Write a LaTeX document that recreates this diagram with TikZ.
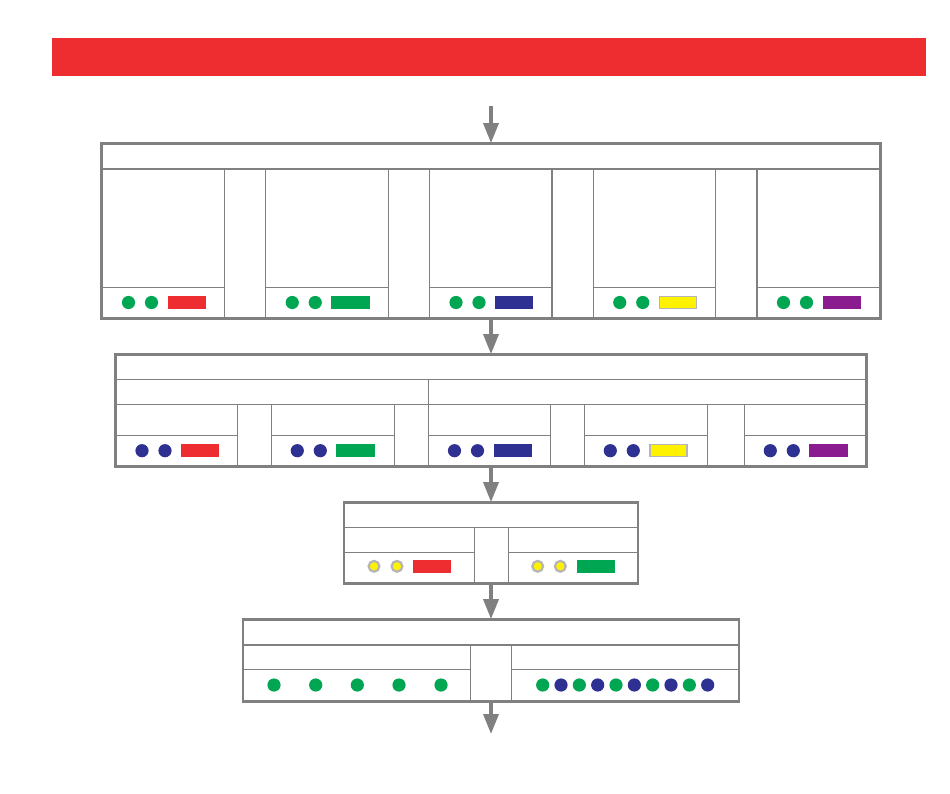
\documentclass[tikz,border=0pt]{standalone}
\usetikzlibrary{arrows.meta}
\definecolor{lg}{HTML}{808080}
\definecolor{cred}{HTML}{EE2D31}
\definecolor{cgreen}{HTML}{00A651}
\definecolor{cblue}{HTML}{2E3192}
\definecolor{cyellow}{HTML}{FFF200}
\definecolor{cpurple}{HTML}{8A1C8F}
\definecolor{cring}{HTML}{B5B5B5}
\begin{document}
\begin{tikzpicture}[x=1pt,y=-1pt,
  box/.style={draw=lg, line width=1.8pt, fill=white, inner sep=0pt},
  innerline/.style={draw=lg, line width=1.1pt},
  flow/.style={draw=lg, line width=3.5pt, -{Triangle[width=15pt,length=20pt]}},
  gdot/.style={fill=cgreen},
  bdot/.style={fill=cblue},
  ydot/.style={fill=cyellow, draw=cring, line width=2.2pt}]
\useasboundingbox (0,0) rectangle (950,794);

% banner
\node[fill=cred, inner sep=0pt, minimum width=874pt, minimum height=38pt] (banner) at (489,57) {};

% boxes
\node[box, minimum width=778pt, minimum height=174pt] (b1) at (491,231) {};
\node[box, minimum width=750pt, minimum height=111pt] (b2) at (491,410.5) {};
\node[box, minimum width=293pt, minimum height=80pt] (b3) at (491,543) {};
\node[box, minimum width=495pt, minimum height=80.7pt] (b4) at (491,660.35) {};

% arrows
\coordinate (start) at (491,106);
\coordinate (finish) at (491,734);
\draw[flow] (start) -- (b1.north);
\draw[flow] (b1.south) -- (b2.north);
\draw[flow] (b2.south) -- (b3.north);
\draw[flow] (b3.south) -- (b4.north);
\draw[flow] (b4.south) -- (finish);

% ---- box 1 ----
\draw[innerline] (102,169) -- (880,169);
\foreach \l/\c/\d in {102/cred/cred, 265.75/cgreen/cgreen, 429.5/cblue/cblue, 593.25/cyellow/cring, 757/cpurple/cpurple} {
  \draw[innerline] (\l,169) -- (\l,318);
  \draw[innerline] (\l+122.5,169) -- (\l+122.5,318);
  \draw[innerline] (\l,287.3) -- (\l+122.5,287.3);
  \fill[gdot] (\l+26.5,302.5) circle (6.6);
  \fill[gdot] (\l+49.5,302.5) circle (6.6);
  \filldraw[fill=\c, draw=\d, line width=1.3pt] (\l+66.2,296.8) rectangle (\l+103.3,308.2);
}
\draw[box, fill=none] (b1.north west) rectangle (b1.south east);

% ---- box 2 ----
\draw[innerline] (116,379.3) -- (866,379.3);
\draw[innerline] (116,404.3) -- (866,404.3);
\draw[innerline] (428.7,379.3) -- (428.7,404.3);
\foreach \l/\r/\c/\d in {116/237.3/cred/cred, 271.3/394.3/cgreen/cgreen, 428.5/550.3/cblue/cblue, 584.3/707.3/cyellow/cring, 744.3/866/cpurple/cpurple} {
  \draw[innerline] (\l,404.3) -- (\l,466);
  \draw[innerline] (\r,404.3) -- (\r,466);
  \draw[innerline] (\l,435.3) -- (\r,435.3);
  \fill[bdot] (\l+26,450.7) circle (6.6);
  \fill[bdot] (\l+49,450.7) circle (6.6);
  \filldraw[fill=\c, draw=\d, line width=1.3pt] (\l+65.8,444.6) rectangle (\l+102.8,456.6);
}
\draw[box, fill=none] (b2.north west) rectangle (b2.south east);

% ---- box 3 ----
\draw[innerline] (344.5,527.3) -- (637.5,527.3);
\draw[innerline] (474.3,527.3) -- (474.3,583);
\draw[innerline] (508.3,527.3) -- (508.3,583);
\draw[innerline] (344.5,552.3) -- (474.3,552.3);
\draw[innerline] (508.3,552.3) -- (637.5,552.3);
\filldraw[ydot] (374,566.3) circle (5.4);
\filldraw[ydot] (397,566.3) circle (5.4);
\fill[cred] (413,560) rectangle (450.7,572.7);
\filldraw[ydot] (537.7,566.3) circle (5.4);
\filldraw[ydot] (560.3,566.3) circle (5.4);
\fill[cgreen] (577,560) rectangle (614.7,572.7);
\draw[box, fill=none] (b3.north west) rectangle (b3.south east);

% ---- box 4 ----
\draw[innerline] (243.5,645) -- (738.5,645);
\draw[innerline] (470.7,645) -- (470.7,700.7);
\draw[innerline] (511.3,645) -- (511.3,700.7);
\draw[innerline] (243.5,669.3) -- (470.7,669.3);
\draw[innerline] (511.3,669.3) -- (738.5,669.3);
\foreach \x in {274,315.7,357.3,399,441} {
  \fill[gdot] (\x,685) circle (6.6);
}
\foreach \k in {0,...,9} {
  \pgfmathsetmacro{\xx}{542.7+18.33*\k}
  \ifodd\k
    \fill[bdot] (\xx,685) circle (6.6);
  \else
    \fill[gdot] (\xx,685) circle (6.6);
  \fi
}
\draw[box, fill=none] (b4.north west) rectangle (b4.south east);
\end{tikzpicture}
\end{document}
